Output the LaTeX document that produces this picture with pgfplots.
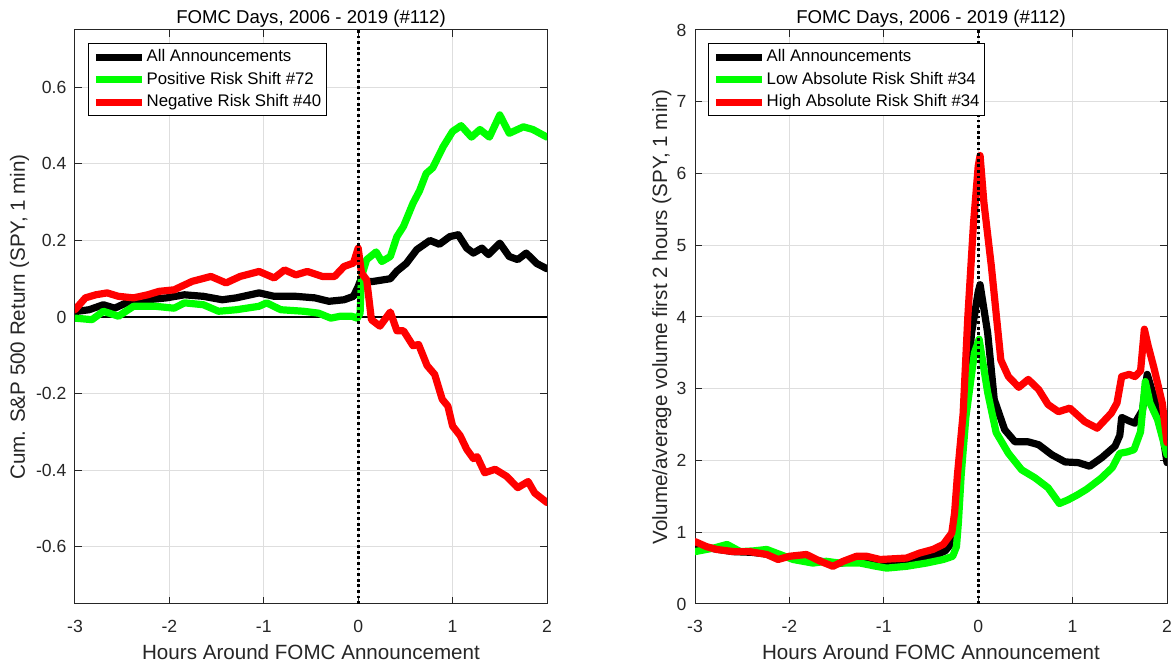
\documentclass[border=0pt]{standalone}
\usepackage{pgfplots}
\pgfplotsset{compat=1.18}
\usepackage{fontspec}
\setmainfont{Liberation Sans}

\definecolor{axgray}{gray}{0.15}
\definecolor{gridgray}{gray}{0.87}
\definecolor{mgreen}{rgb}{0,1,0}
\definecolor{mred}{rgb}{1,0,0}

\pgfplotsset{
  fomc/.style={
    scale only axis, width=236pt, height=287pt,
    xmin=-3, xmax=2, xtick={-3,...,2},
    axis line style={axgray, line width=0.5pt},
    tick style={axgray, line width=0.5pt},
    major tick length=3.5pt, tick align=inside,
    grid=major, major grid style={gridgray, line width=0.5pt},
    /pgf/number format/assume math mode=true,
    tick label style={font=\fontsize{8.8}{10}\selectfont, text=axgray},
    xticklabel style={yshift=-4.5pt},
    yticklabel style={xshift=-0.8pt},
    label style={font=\fontsize{10.3}{12}\selectfont, text=axgray},
    xlabel style={at={([yshift=-27.7pt]axis description cs:0.5,0)}, anchor=base},
    every axis title shift=0pt,
    title style={font=\fontsize{9.3}{11}\selectfont, at={([yshift=3.3pt]axis description cs:0.5,1)}, anchor=base},
    legend style={at={(0.0275,0.977)}, anchor=north west, draw=black, line width=0.5pt,
      font=\fontsize{8.4}{10}\selectfont, inner sep=2pt, row sep=1.6pt,
      nodes={inner sep=0.6pt, text height=6.4pt, text depth=2pt}},
    legend cell align=left,
    legend image code/.code={\draw[##1, line width=3.5pt, line cap=butt] (0pt,0pt) -- (23pt,0pt);},
    every axis plot/.append style={line width=3.6pt, line join=round, line cap=round},
  }
}

\begin{document}
\begin{tikzpicture}
\useasboundingbox (-37.5pt,-31.5pt) rectangle (550pt,302pt);

\begin{axis}[fomc, at={(0,0)},
  ymin=-0.75, ymax=0.75, ytick={-0.6,-0.4,-0.2,0,0.2,0.4,0.6},
  yticklabels={-0.6,-0.4,-0.2,0,0.2,0.4,0.6},
  title={FOMC Days, 2006 - 2019 (\#112)},
  xlabel={Hours Around FOMC Announcement},
  ylabel={Cum. S\&P 500 Return (SPY, 1 min)},
  ylabel style={at={([xshift=-25pt]axis description cs:0,0.5)}, anchor=base},
]
\addplot[black, line width=0.6pt, line cap=butt, forget plot] coordinates {(-3,0) (2,0)};
% all announcements
\addplot[black] coordinates {
(-3.00,0.012) (-2.97,0.015) (-2.85,0.019) (-2.70,0.032) (-2.58,0.023) (-2.42,0.041)
(-2.23,0.045) (-2.03,0.050) (-1.84,0.058) (-1.64,0.054) (-1.44,0.045) (-1.29,0.050)
(-1.05,0.063) (-0.89,0.054) (-0.66,0.054) (-0.46,0.050) (-0.31,0.041) (-0.15,0.045)
(-0.05,0.054) (0.00,0.080) (0.02,0.093) (0.16,0.093) (0.34,0.100) (0.41,0.120)
(0.51,0.140) (0.62,0.176) (0.76,0.200) (0.86,0.190) (0.97,0.210) (1.06,0.215)
(1.15,0.180) (1.22,0.167) (1.31,0.180) (1.38,0.163) (1.50,0.193) (1.60,0.158)
(1.69,0.150) (1.78,0.167) (1.89,0.140) (2.00,0.126)
};
% positive risk shift
\addplot[mgreen] coordinates {
(-3.00,-0.003) (-2.82,-0.007) (-2.70,0.015) (-2.54,0.002) (-2.38,0.028) (-2.15,0.028)
(-1.95,0.023) (-1.84,0.037) (-1.64,0.032) (-1.48,0.015) (-1.29,0.019) (-1.05,0.028)
(-0.97,0.037) (-0.82,0.019) (-0.58,0.015) (-0.42,0.010) (-0.29,-0.003) (-0.19,0.002)
(-0.07,0.002) (-0.01,-0.003) (0.02,0.010) (0.035,0.106) (0.09,0.150) (0.19,0.170)
(0.25,0.145) (0.34,0.158) (0.41,0.210) (0.48,0.237) (0.58,0.297) (0.65,0.330)
(0.72,0.375) (0.79,0.390) (0.90,0.445) (1.00,0.485) (1.09,0.500) (1.20,0.470)
(1.29,0.490) (1.39,0.470) (1.50,0.528) (1.60,0.480) (1.75,0.497) (1.85,0.490)
(2.00,0.470)
};
% negative risk shift
\addplot[mred] coordinates {
(-3.00,0.019) (-2.89,0.050) (-2.78,0.058) (-2.66,0.063) (-2.54,0.054) (-2.38,0.050)
(-2.23,0.058) (-2.11,0.067) (-1.95,0.071) (-1.76,0.093) (-1.56,0.106) (-1.40,0.089)
(-1.25,0.106) (-1.05,0.119) (-0.89,0.102) (-0.78,0.123) (-0.66,0.110) (-0.54,0.119)
(-0.38,0.106) (-0.25,0.106) (-0.15,0.132) (-0.05,0.141) (0.00,0.180) (0.035,0.115)
(0.09,0.097) (0.14,-0.007) (0.23,-0.024) (0.34,0.013) (0.41,-0.036) (0.48,-0.036)
(0.58,-0.075) (0.64,-0.072) (0.73,-0.127) (0.81,-0.150) (0.89,-0.215) (0.95,-0.233)
(1.00,-0.285) (1.08,-0.310) (1.15,-0.346) (1.22,-0.370) (1.26,-0.365) (1.34,-0.407)
(1.45,-0.398) (1.57,-0.416) (1.69,-0.446) (1.80,-0.430) (1.87,-0.460) (2.00,-0.485)
};
\addplot[black, line width=1.4pt, line cap=butt, dash pattern=on 1.4pt off 1.4pt, forget plot]
  coordinates {(0,-0.75) (0,0.75)};
\legend{All Announcements, Positive Risk Shift \#72, Negative Risk Shift \#40}
\end{axis}

\begin{axis}[fomc, at={(310pt,0)},
  ymin=0, ymax=8, ytick={0,1,...,8},
  title={FOMC Days, 2006 - 2019 (\#112)},
  xlabel={Hours Around FOMC Announcement},
  ylabel={Volume/average volume first 2 hours (SPY, 1 min)},
  ylabel style={at={([xshift=-14pt]axis description cs:0,0.5)}, anchor=base},
]
% all announcements
\addplot[black] coordinates {
(-3.00,0.82) (-2.80,0.77) (-2.60,0.73) (-2.40,0.72) (-2.20,0.69) (-2.00,0.65)
(-1.80,0.63) (-1.60,0.58) (-1.50,0.56) (-1.40,0.58) (-1.20,0.61) (-1.00,0.57)
(-0.80,0.59) (-0.60,0.63) (-0.45,0.68) (-0.35,0.74) (-0.28,0.85) (-0.24,1.20)
(-0.20,1.80) (-0.16,2.40) (-0.07,3.78) (0.00,4.35) (0.02,4.45) (0.10,3.78)
(0.17,2.85) (0.28,2.43) (0.39,2.26) (0.53,2.26) (0.64,2.22) (0.78,2.08)
(0.92,1.98) (1.06,1.97) (1.18,1.92) (1.31,2.04) (1.45,2.20) (1.50,2.35)
(1.52,2.60) (1.60,2.55) (1.66,2.52) (1.74,2.70) (1.79,3.20) (1.87,2.85)
(1.95,2.40) (2.00,1.97)
};
% low absolute risk shift
\addplot[mgreen] coordinates {
(-3.00,0.73) (-2.80,0.78) (-2.66,0.83) (-2.52,0.73) (-2.38,0.74) (-2.24,0.76)
(-2.10,0.69) (-1.96,0.62) (-1.75,0.57) (-1.61,0.595) (-1.47,0.57) (-1.25,0.57)
(-1.10,0.53) (-0.97,0.50) (-0.76,0.525) (-0.55,0.57) (-0.37,0.62) (-0.27,0.665)
(-0.23,0.80) (-0.21,1.13) (-0.18,1.80) (-0.13,2.61) (-0.04,3.50) (0.01,3.69)
(0.10,2.95) (0.19,2.39) (0.32,2.10) (0.46,1.87) (0.60,1.76) (0.74,1.62)
(0.86,1.40) (0.95,1.45) (1.05,1.52) (1.15,1.60) (1.30,1.75) (1.42,1.90)
(1.50,2.10) (1.58,2.12) (1.65,2.15) (1.72,2.40) (1.77,3.10) (1.82,2.80)
(1.90,2.57) (2.00,2.08)
};
% high absolute risk shift
\addplot[mred] coordinates {
(-3.00,0.87) (-2.88,0.80) (-2.77,0.76) (-2.59,0.73) (-2.42,0.73) (-2.24,0.69)
(-2.12,0.62) (-2.00,0.665) (-1.82,0.69) (-1.68,0.60) (-1.54,0.525) (-1.43,0.595)
(-1.29,0.665) (-1.18,0.665) (-1.04,0.62) (-0.90,0.63) (-0.76,0.64) (-0.62,0.71)
(-0.48,0.76) (-0.37,0.83) (-0.28,0.99) (-0.25,1.27) (-0.22,1.80) (-0.16,2.65)
(-0.11,4.00) (-0.05,5.30) (0.00,6.10) (0.02,6.25) (0.06,5.60) (0.14,4.70)
(0.24,3.40) (0.32,3.17) (0.43,3.02) (0.53,3.13) (0.64,2.99) (0.74,2.78)
(0.85,2.68) (0.97,2.73) (1.13,2.54) (1.26,2.45) (1.41,2.66) (1.47,2.80)
(1.52,3.17) (1.60,3.20) (1.66,3.17) (1.72,3.25) (1.76,3.83) (1.80,3.60)
(1.86,3.30) (1.95,2.80) (2.00,2.25)
};
\addplot[black, line width=1.4pt, line cap=butt, dash pattern=on 1.4pt off 1.4pt, forget plot]
  coordinates {(0,0) (0,8)};
\legend{All Announcements, Low Absolute Risk Shift \#34, High Absolute Risk Shift \#34}
\end{axis}
\end{tikzpicture}
\end{document}
